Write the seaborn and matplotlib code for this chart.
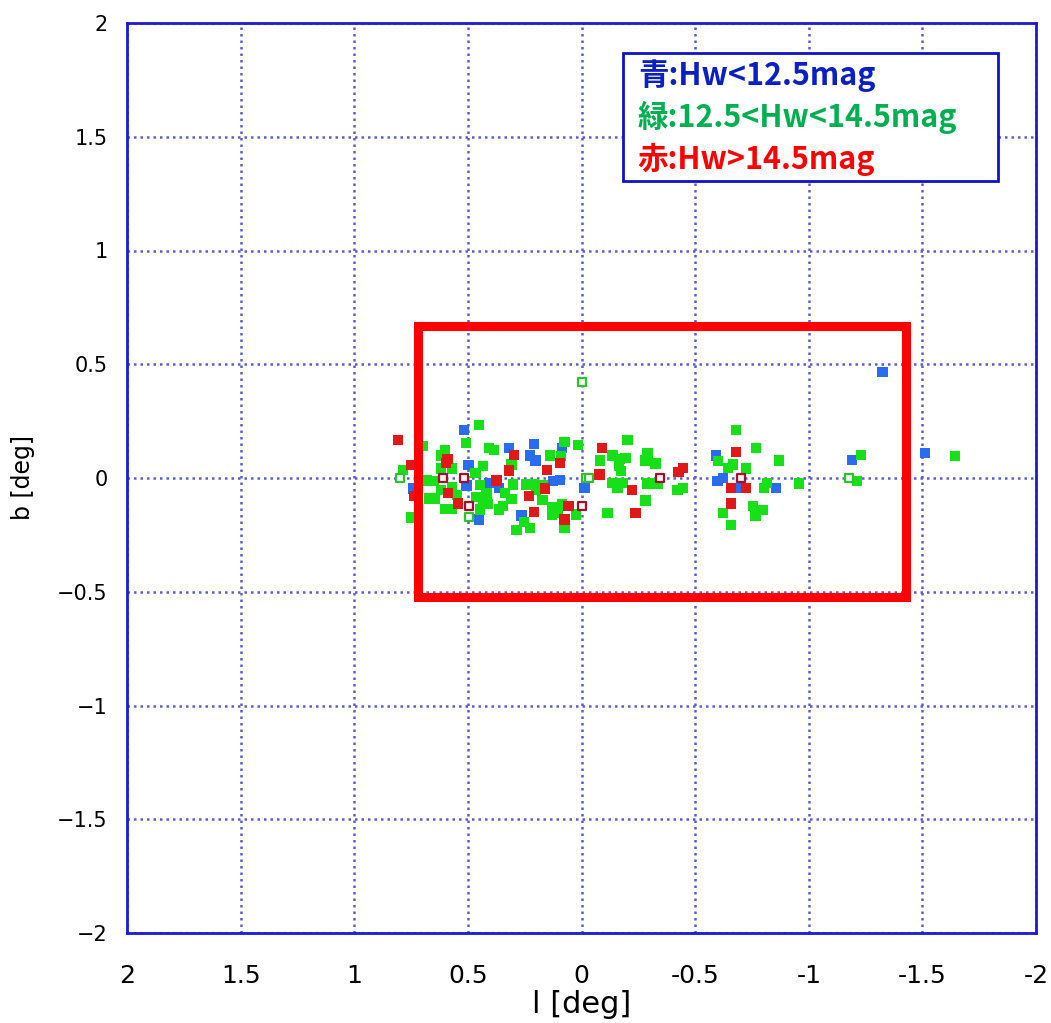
import numpy as np
import pandas as pd
import matplotlib
matplotlib.use("Agg")
import matplotlib.pyplot as plt
import seaborn as sns
from matplotlib.patches import Rectangle

# ---- data (l, b in degrees) ----
blue_l = [0.516, 0.497, 0.740, 0.506, 0.408, 0.363, 0.319, 0.209, 0.228, 0.202, 0.085, 0.126,
          0.096, 0.264, 0.452, -0.013, -0.591, -0.598, -0.623, -0.690, -0.857, -1.190, -1.512, -1.325]
blue_b = [0.211, 0.056, -0.046, -0.033, -0.021, -0.043, 0.133, 0.148, 0.099, 0.077, 0.133, -0.014,
          -0.010, -0.165, -0.183, -0.043, 0.099, -0.014, -0.001, -0.045, -0.045, 0.079, 0.111, 0.467]

green_l = [0.450, 0.509, 0.407, 0.385, 0.601, 0.618, 0.786, 0.618, 0.571, 0.696, 0.681, 0.670,
           0.645, 0.618, 0.571, 0.601, 0.571, 0.547, 0.750, 0.466, 0.433, 0.447, 0.462, 0.418,
           0.433, 0.447, 0.411, 0.364, 0.345, 0.338, 0.308, 0.301, 0.308, 0.286, 0.254, 0.228,
           0.243, 0.209, 0.199, 0.172, 0.140, 0.089, 0.075, 0.016, 0.129, 0.104, 0.085, 0.129,
           0.075, 0.023, 0.170, -0.203, -0.137, -0.167, -0.193, -0.082, -0.164, -0.174, -0.291,
           -0.281, -0.325, -0.137, -0.159, -0.181, -0.291, -0.335, -0.281, -0.115, -0.422, -0.447,
           -0.679, -0.769, -0.868, -0.602, -0.646, -0.668, -0.725, -0.803, -0.817, -0.956, -0.756,
           -0.800, -0.766, -0.624, -0.657, -1.229, -1.212, -1.643, 0.648]
green_b = [0.233, 0.155, 0.133, 0.123, 0.123, 0.099, 0.034, 0.042, 0.042, 0.140, -0.011, -0.090,
           -0.090, -0.054, -0.039, -0.135, -0.135, -0.076, -0.173, 0.023, 0.052, -0.032, -0.083, -0.068,
           -0.109, -0.139, -0.114, -0.139, -0.124, -0.065, -0.092, -0.029, 0.060, -0.230, -0.193, -0.220,
           -0.029, -0.029, -0.054, -0.098, 0.099, 0.096, 0.158, 0.145, -0.129, -0.151, -0.117, -0.161,
           -0.220, -0.161, -0.033, 0.167, 0.099, 0.085, 0.089, 0.077, 0.052, 0.030, 0.111,
           0.077, 0.064, -0.021, -0.043, -0.021, -0.024, -0.024, -0.099, -0.154, -0.054, -0.043,
           0.211, 0.133, 0.077, 0.074, 0.045, 0.060, 0.042, -0.043, -0.021, -0.024, -0.124,
           -0.142, -0.165, -0.154, -0.208, 0.101, -0.014, 0.096, -0.014]

red_l = [0.806, 0.751, 0.736, 0.589, 0.596, 0.586, 0.543, 0.374, 0.319, 0.297, 0.231, 0.152,
         0.096, 0.162, 0.209, 0.075, 0.057, -0.091, -0.079, -0.222, -0.237, -0.447, -0.427,
         -0.679, -0.659, -0.723, -0.657]
red_b = [0.167, 0.056, -0.080, 0.085, 0.067, -0.065, -0.112, -0.011, 0.033, 0.101, -0.080, 0.034,
         0.067, -0.046, -0.149, -0.183, -0.124, 0.133, 0.015, -0.054, -0.154, 0.045, 0.026,
         0.114, -0.045, -0.045, -0.112]

# open (hollow) markers
red_open_l = [0.608, 0.518, 0.497, -0.004, -0.346, -0.703]
red_open_b = [-0.002, -0.002, -0.124, -0.121, 0.001, 0.001]
green_open_l = [0.798, -0.018, -0.035, 0.494, 0.000, -1.175]
green_open_b = [-0.002, -0.002, -0.002, -0.173, 0.421, 0.001]

ticks = [-2, -1.5, -1, -0.5, 0, 0.5, 1, 1.5, 2]
tick_labels = ["\u22122", "\u22121.5", "\u22121", "\u22120.5", "0", "0.5", "1", "1.5", "2"]
xtick_labels = ["-2", "-1.5", "-1", "-0.5", "0", "0.5", "1", "1.5", "2"]

legend_lines = [("青:Hw<12.5mag", "#0b1fc4"),
                ("緑:12.5<Hw<14.5mag", "#00b050"),
                ("赤:Hw>14.5mag", "#ff0000")]
box_l = [0.72, -1.43]
box_b = [0.668, -0.523]

df = pd.DataFrame({
    "l": blue_l + green_l + red_l,
    "b": blue_b + green_b + red_b,
    "grp": ["blue"] * len(blue_l) + ["green"] * len(green_l) + ["red"] * len(red_l),
})
df_red_open = pd.DataFrame({"l": red_open_l, "b": red_open_b})
df_green_open = pd.DataFrame({"l": green_open_l, "b": green_open_b})

sns.set_theme(style="white")
plt.rcParams['font.family'] = ['DejaVu Sans']

fig = plt.figure(figsize=(10.51, 10.23), dpi=100)
ax = fig.add_axes([127 / 1051, 1 - 933 / 1023, 909 / 1051, 910 / 1023])

pal = {"blue": "#2a6cf0", "green": "#18e018", "red": "#e01818"}
sns.scatterplot(data=df, x="l", y="b", hue="grp", palette=pal, marker="s", s=55,
                edgecolor="none", legend=False, ax=ax, zorder=3)
sns.scatterplot(data=df_red_open, x="l", y="b", marker="s", s=40,
                facecolor="#fff0f0", edgecolor="#a01030", linewidth=1.6,
                legend=False, ax=ax, zorder=4)
sns.scatterplot(data=df_green_open, x="l", y="b", marker="s", s=40,
                facecolor="#f0fff0", edgecolor="#30c030", linewidth=1.6,
                legend=False, ax=ax, zorder=4)

ax.set_xlim(2, -2)
ax.set_ylim(-2, 2)
ax.set_xticks(ticks)
ax.set_yticks(ticks)
ax.set_yticklabels(tick_labels, fontsize=15, color="black")
ax.set_xticklabels(xtick_labels, family=["Liberation Sans Narrow", "DejaVu Sans"],
                   fontsize=18, color="black")
ax.grid(True, color="#5a5ad6", linestyle=(0, (1, 1.6)), linewidth=1.8)
ax.set_axisbelow(True)
for sp in ax.spines.values():
    sp.set_color("#1a1ad8")
    sp.set_linewidth(2)
    sp.set_visible(True)
ax.tick_params(axis="both", direction="in", length=5, color="#1a1ad8", width=1.5)
ax.tick_params(axis="x", pad=22)
ax.tick_params(axis="y", pad=14)
ax.set_xlabel("l [deg]", fontsize=22, family=["Liberation Sans Narrow", "DejaVu Sans"],
              labelpad=2, color="black")
ax.set_ylabel("b [deg]", fontsize=17, labelpad=16, color="black")

# red highlight rectangle
ax.add_patch(Rectangle((box_l[0], box_b[1]), box_l[1] - box_l[0], box_b[0] - box_b[1],
                       fill=False, edgecolor="#ff0000", linewidth=6.5, zorder=5))

# legend box
ax.add_patch(Rectangle((0.546, 0.826), 0.412, 0.141, transform=ax.transAxes,
                       facecolor="white", edgecolor="#1010c8", linewidth=2, zorder=6))
ys = [0.942, 0.896, 0.850]
for (txt, col), yy in zip(legend_lines, ys):
    ax.text(0.562, yy, txt, transform=ax.transAxes, color=col, fontsize=22,
            fontweight="bold", va="center", ha="left",
            family=["Noto Sans CJK JP", "DejaVu Sans"], zorder=7)

fig.savefig("out.png", dpi=100)
